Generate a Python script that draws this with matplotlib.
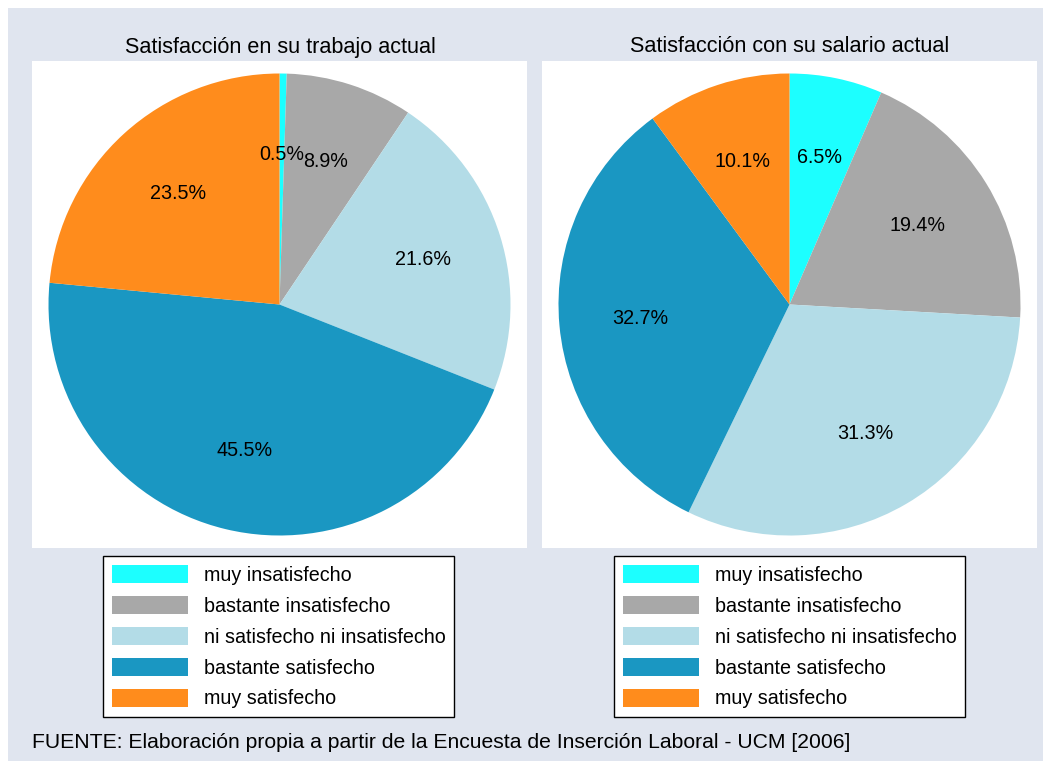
import matplotlib
matplotlib.use("Agg")
import matplotlib.pyplot as plt
from matplotlib.patches import Rectangle

plt.rcParams["font.family"] = ["Liberation Sans", "DejaVu Sans"]

categories = ["muy insatisfecho", "bastante insatisfecho", "ni satisfecho ni insatisfecho",
              "bastante satisfecho", "muy satisfecho"]
trabajo = [0.5, 8.9, 21.6, 45.5, 23.5]
salario = [6.5, 19.4, 31.3, 32.7, 10.1]
titles = ["Satisfacción en su trabajo actual", "Satisfacción con su salario actual"]
colors = ["#1CFFFF", "#A8A8A8", "#B3DCE7", "#1A97C2", "#FF8C1C"]
BG = "#E0E5EF"
W, H = 1050, 769

fig = plt.figure(figsize=(W / 100, H / 100), dpi=100, facecolor="white")
fig.patches.append(Rectangle((8 / W, 8 / H), (1043 - 8) / W, (761 - 8) / H,
                             transform=fig.transFigure, facecolor=BG, edgecolor="none", zorder=-10))

R = 231.0
panels = [(32, trabajo, titles[0], 278.5), (542, salario, titles[1], 789.5)]
for x0, vals, title, leg_cx in panels:
    ax = fig.add_axes([x0 / W, (H - 548) / H, 495 / W, 487 / H])
    wedges, _, autotexts = ax.pie(vals, colors=colors, startangle=90, counterclock=False,
                                  autopct=lambda p: f"{p:.1f}%", pctdistance=0.65,
                                  wedgeprops=dict(linewidth=0), textprops=dict(fontsize=14.2))
    ax.set_frame_on(True)
    ax.set_facecolor("white")
    ax.set_xlim(-247.5 / R, 247.5 / R)
    ax.set_ylim(-243.5 / R, 243.5 / R)
    ax.set_aspect("equal")
    ax.set_xticks([]); ax.set_yticks([])
    for s in ax.spines.values():
        s.set_visible(False)
    fig.text((x0 + 248) / W, 1 - 47 / H, title, ha="center", va="center", fontsize=15.6)
    leg = fig.legend(wedges, categories, loc="upper center",
                     bbox_to_anchor=(leg_cx / W, 1 - 556 / H), fontsize=14.2,
                     handlelength=3.86, handleheight=1.05, labelspacing=0.56,
                     handletextpad=0.8, borderpad=0.45, borderaxespad=0,
                     fancybox=False, frameon=True, edgecolor="black", framealpha=1)
    leg.get_frame().set_linewidth(1.0)

fig.text(32 / W, 1 - 743 / H,
         "FUENTE: Elaboración propia a partir de la Encuesta de Inserción Laboral - UCM [2006]",
         ha="left", va="center", fontsize=15.2)

fig.savefig("out.png", dpi=100, facecolor=fig.get_facecolor())
